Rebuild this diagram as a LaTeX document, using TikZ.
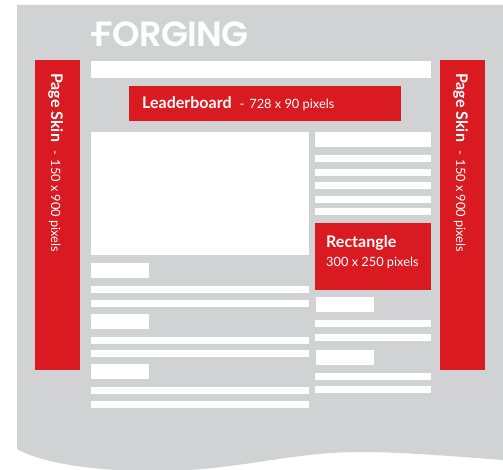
\documentclass[tikz,border=0pt]{standalone}
\usepackage{fontspec}
\setmainfont{Lato}
\newfontfamily\logofont[LetterSpace=-2]{Poppins SemiBold}
\definecolor{pagegray}{HTML}{D1D2D4}
\definecolor{adred}{HTML}{D91A21}
\tikzset{
  white box/.style={fill=white,draw=none},
  red box/.style={fill=adred,draw=none},
  label/.style={text=white,inner sep=0pt,anchor=base west},
  side label/.style={text=white,inner sep=0pt,anchor=base west,rotate=-90},
}
\newcommand{\adtitle}[1]{\fontsize{16}{18}\selectfont\bfseries #1}
\newcommand{\adsize}[1]{\fontsize{12.8}{15}\selectfont\mdseries #1}
\begin{document}
\begin{tikzpicture}[x=1pt,y=-1pt]
\useasboundingbox (0,0) rectangle (503,470);
\clip (0,0) rectangle (503,470);
% page
\fill[pagegray] (17,5) -- (503,5) -- (503,460)
  .. controls (450,456) and (400,452) .. (360,452)
  .. controls (300,452) and (250,466) .. (190,470)
  .. controls (130,474) and (50,468) .. (17,449) -- cycle;
% logo
\node[text=white,inner sep=0pt,anchor=base west] (logo) at (94.5,47)
  {\logofont\fontsize{35}{35}\selectfont FORGING};
\fill[white] (91,32.5) rectangle (100,36.5);
% header
\fill[white box] (91,61) rectangle (431,78);
\fill[red box] (129,86) rectangle (401,121);
\node[label] (lead) at (142,109) {\adtitle{Leaderboard}\hspace{8pt}\adsize{-\hspace{5pt}728 x 90 pixels}};
% skins
\fill[red box] (35,60) rectangle (80,370);
\fill[red box] (440,60) rectangle (485,370);
\node[side label] (skinl) at (51,73) {\adtitle{Page Skin}\hspace{8pt}\adsize{-\hspace{5pt}150 x 900 pixels}};
\node[side label] (skinr) at (456,73) {\adtitle{Page Skin}\hspace{8pt}\adsize{-\hspace{5pt}150 x 900 pixels}};
% left column
\fill[white box] (91,132) rectangle (309,255);
\foreach \t in {263,314,364} \fill[white box] (91,\t) rectangle (149,\t+15);
\foreach \t in {286,300,337,350,387,401} \fill[white box] (91,\t) rectangle (309,\t+7);
% right column
\fill[white box] (315,132) rectangle (431,147);
\foreach \t in {155,169,182,196,208,320,334,373,386} \fill[white box] (315,\t) rectangle (431,\t+7);
\fill[red box] (315,223) rectangle (431,290);
\node[label] (recta) at (326,248) {\adtitle{Rectangle}};
\node[label] (rectb) at (326,266) {\adsize{300 x 250 pixels}};
\foreach \t in {297,350} \fill[white box] (316,\t) rectangle (374,\t+15);
\end{tikzpicture}
\end{document}
